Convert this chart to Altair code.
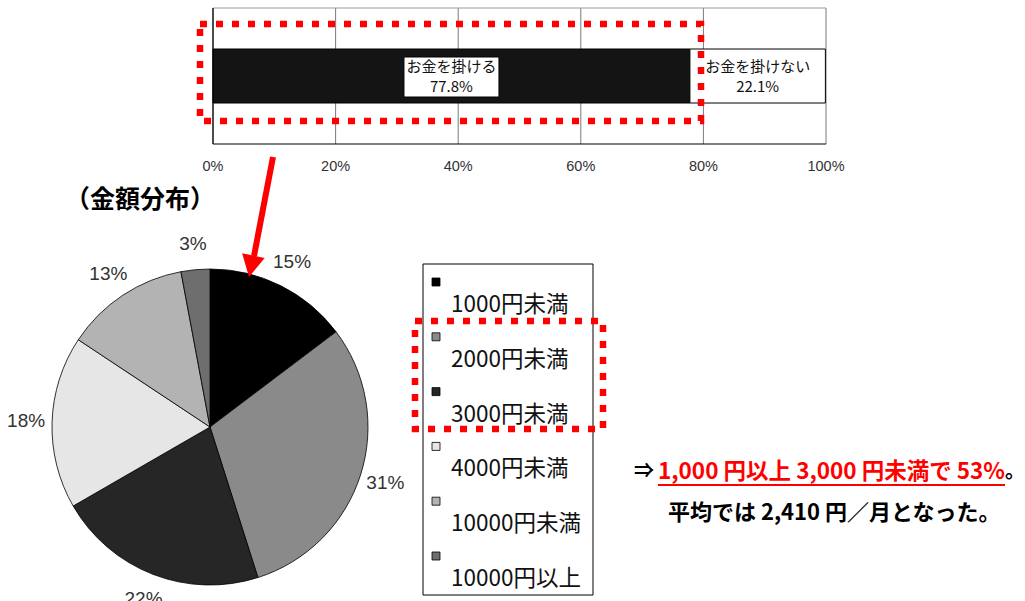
import altair as alt
import pandas as pd

# ---------------- data ----------------
bar_labels = ["お金を掛ける", "お金を掛けない"]
bar_values = [77.8, 22.1]
axis_ticks = [0, 20, 40, 60, 80, 100]
axis_tick_labels = ["0%", "20%", "40%", "60%", "80%", "100%"]

pie_categories = ["1000円未満", "2000円未満", "3000円未満", "4000円未満", "10000円未満", "10000円以上"]
pie_values = [15, 31, 22, 18, 13, 3]
pie_colors = ["#000000", "#8a8a8a", "#262626", "#e6e6e6", "#b3b3b3", "#6e6e6e"]

title_text = ["（金額分布）"]
note_arrow = ["⇒"]
note_red = ["1,000 円以上 3,000 円未満で 53%"]
note_end = ["。"]
note_line2 = ["平均では 2,410 円／月となった。"]

# ---------------- fonts ----------------
JP = "Noto Sans CJK JP"
NUM = "Liberation Sans, Arial, sans-serif"

# ---------------- tables ----------------
starts, acc = [], 0.0
for v in bar_values:
    starts.append(acc)
    acc += v
bar_df = pd.DataFrame({
    "label": bar_labels,
    "value": bar_values,
    "start": starts,
    "end": [s + v for s, v in zip(starts, bar_values)],
})
bar_df["mid"] = (bar_df["start"] + bar_df["end"]) / 2
bar_df["text"] = [f"{l}\n{v}%" for l, v in zip(bar_labels, bar_values)]
bar_df["idx"] = range(len(bar_df))

tick_df = pd.DataFrame({"tick": axis_ticks, "tlabel": axis_tick_labels})
frame_df = pd.DataFrame({"t0": [axis_ticks[0]], "t1": [axis_ticks[-1]]})

pie_df = pd.DataFrame({
    "category": pie_categories,
    "value": pie_values,
    "order": list(range(len(pie_values))),
    "plabel": [f"{v}%" for v in pie_values],
})
leg_df = pd.DataFrame({"category": pie_categories, "pos": list(range(len(pie_categories)))})

one = pd.DataFrame({"k": [0]})

# ---------------- scales ----------------
xs = alt.Scale(domain=[0, 100], range=[213, 826], nice=False, zero=False)
pie_color = alt.Color("category:N", scale=alt.Scale(domain=pie_categories, range=pie_colors), legend=None)
leg_y = alt.Y("pos:O", scale=alt.Scale(type="point", domain=list(range(len(pie_categories))),
                                          range=[282, 556], padding=0), axis=None)

# ---------------- bar chart ----------------
frame_bg = alt.Chart(frame_df).mark_rect(fill="white").encode(
    x=alt.X("t0:Q", scale=xs, axis=None), x2="t1:Q", y=alt.value(8), y2=alt.value(144))
grid = alt.Chart(tick_df).mark_rule(color="#7a7a7a", strokeWidth=1).encode(
    x=alt.X("tick:Q", scale=xs, axis=None), y=alt.value(8), y2=alt.value(144))
top_line = alt.Chart(frame_df).mark_rule(color="#9a9a9a", strokeWidth=1).encode(
    x=alt.X("t0:Q", scale=xs, axis=None), x2="t1:Q", y=alt.value(8))
bottom_line = alt.Chart(frame_df).mark_rule(color="#000000", strokeWidth=1.2).encode(
    x=alt.X("t0:Q", scale=xs, axis=None), x2="t1:Q", y=alt.value(144))
left_line = alt.Chart(frame_df).mark_rule(color="#000000", strokeWidth=1.2).encode(
    x=alt.X("t0:Q", scale=xs, axis=None), y=alt.value(8), y2=alt.value(144))
bars = alt.Chart(bar_df).mark_rect(stroke="#000", strokeWidth=1).encode(
    x=alt.X("start:Q", scale=xs, axis=None), x2="end:Q",
    y=alt.value(49), y2=alt.value(103),
    fill=alt.Fill("label:N", scale=alt.Scale(domain=bar_labels, range=["#141414", "#ffffff"]), legend=None))
label_box = alt.Chart(bar_df).transform_filter("datum.idx == 0").mark_rect(
    fill="white", stroke="#000", strokeWidth=1, xOffset=-47.5, x2Offset=47.5).encode(
    x=alt.X("mid:Q", scale=xs, axis=None), x2="mid:Q", y=alt.value(57), y2=alt.value(97))
bar_text = alt.Chart(bar_df).mark_text(font=JP, fontSize=15, color="#111", lineBreak="\n",
                                       lineHeight=20, baseline="middle").encode(
    x=alt.X("mid:Q", scale=xs, axis=None), y=alt.value(67), text="text:N")
tick_text = alt.Chart(tick_df).mark_text(font=NUM, fontSize=14.5, color="#333", baseline="middle").encode(
    x=alt.X("tick:Q", scale=xs, axis=None), y=alt.value(167), text="tlabel:N")

# ---------------- pie ----------------
arcs = alt.Chart(pie_df).mark_arc(outerRadius=158, stroke="#000", strokeWidth=0.8).encode(
    theta=alt.Theta("value:Q", stack=True), color=pie_color, order=alt.Order("order:Q"),
    x=alt.value(210), y=alt.value(427))
pie_labels = alt.Chart(pie_df).mark_text(radius=184, font=NUM, fontSize=19, color="#333").encode(
    theta=alt.Theta("value:Q", stack=True), order=alt.Order("order:Q"), text="plabel:N",
    x=alt.value(210), y=alt.value(427))

title = alt.Chart(pd.DataFrame({"t": title_text})).mark_text(
    font=JP, fontSize=25, fontWeight="bold", color="#000").encode(
    x=alt.value(140), y=alt.value(200), text="t:N")

# ---------------- legend ----------------
leg_box = alt.Chart(one).mark_rect(fill="white", stroke="#000", strokeWidth=1).encode(
    x=alt.value(423), x2=alt.value(593), y=alt.value(264), y2=alt.value(595))
leg_sym = alt.Chart(leg_df).mark_square(size=64, stroke="#000", strokeWidth=0.8, opacity=1).encode(
    x=alt.value(436), y=leg_y, color=pie_color)
leg_txt = alt.Chart(leg_df).mark_text(font=JP, fontSize=22.5, color="#111", align="left",
                                      baseline="middle", dy=23).encode(
    x=alt.value(451), y=leg_y, text="category:N")

# ---------------- annotations ----------------
RED = "#ff0000"
box1 = alt.Chart(one).mark_rect(fillOpacity=0, stroke=RED, strokeWidth=6.5, strokeDash=[7, 9]).encode(
    x=alt.value(200), x2=alt.value(701), y=alt.value(24), y2=alt.value(121))
box2 = alt.Chart(one).mark_rect(fillOpacity=0, stroke=RED, strokeWidth=6.5, strokeDash=[7, 9]).encode(
    x=alt.value(415), x2=alt.value(603), y=alt.value(321), y2=alt.value(429))
shaft = alt.Chart(one).mark_rule(color=RED, strokeWidth=6).encode(
    x=alt.value(273), y=alt.value(157), x2=alt.value(254), y2=alt.value(256))
head = alt.Chart(one).mark_point(shape="M 0 0 L -1 -1.9 L 1 -1.9 Z", size=529, filled=True,
                                 color=RED, opacity=1, angle=11.6, strokeWidth=0).encode(
    x=alt.value(249), y=alt.value(277))

note1a = alt.Chart(pd.DataFrame({"t": note_arrow})).mark_text(
    font=JP, fontSize=20, fontWeight="bold", color="#000", align="left", baseline="middle").encode(
    x=alt.value(634), y=alt.value(472), text="t:N")
note1b = alt.Chart(pd.DataFrame({"t": note_red})).mark_text(
    font=JP, fontSize=22.5, fontWeight="bold", color=RED, align="left", baseline="middle").encode(
    x=alt.value(658), y=alt.value(472), text="t:N")
note1c = alt.Chart(pd.DataFrame({"t": note_end})).mark_text(
    font=JP, fontSize=20, fontWeight="bold", color="#000", align="left", baseline="middle").encode(
    x=alt.value(1005), y=alt.value(472), text="t:N")
underline = alt.Chart(one).mark_rule(color=RED, strokeWidth=2.2).encode(
    x=alt.value(658), x2=alt.value(1005), y=alt.value(485))
note2 = alt.Chart(pd.DataFrame({"t": note_line2})).mark_text(
    font=JP, fontSize=22, fontWeight="bold", color="#000", align="left", baseline="middle").encode(
    x=alt.value(668), y=alt.value(513), text="t:N")

chart = alt.layer(
    frame_bg, grid, top_line, bars, label_box, bar_text, bottom_line, left_line, tick_text,
    arcs, pie_labels, title,
    leg_box, leg_sym, leg_txt,
    box1, box2, shaft, head,
    note1a, note1b, note1c, underline, note2,
).resolve_scale(color="independent").properties(
    width=1025, height=601, padding=0, autosize=alt.AutoSizeParams(type="none"),
    background="white",
).configure_view(stroke=None)

chart.save("out.html", embed_options={"renderer": "svg", "actions": False})
